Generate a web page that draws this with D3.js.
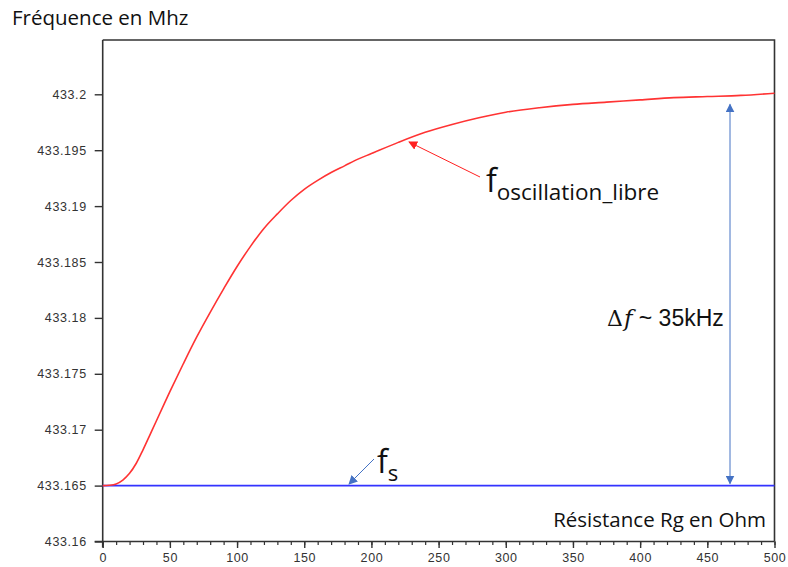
<!DOCTYPE html>
<html>
<head>
<meta charset="utf-8">
<script src="https://cdn.jsdelivr.net/npm/d3@7"></script>
<style>
  body { margin: 0; background: #fff; }
  svg { display: block; }
  .tick text { font-family: "Liberation Sans", Arial, sans-serif; font-size: 12.5px; letter-spacing: 0.6px; fill: #333; }
  .tick line, .domain { stroke: #333; }
  .lbl { font-family: "Open Sans", sans-serif; fill: #111; }
</style>
</head>
<body>
<svg id="chart" width="788" height="567"></svg>
<script>
// resistance Rg (ohm) and free oscillation frequency (MHz)
var resistance = [0, 5, 10, 15, 20, 25, 30, 35, 40, 50, 60, 70, 80, 90, 100, 110, 120, 130, 140, 150, 160,
  170, 180, 190, 200, 220, 240, 260, 280, 300, 325, 350, 375, 400, 425, 450, 475, 500];
var fLibre = [433.1650, 433.16503, 433.16515, 433.1655, 433.1661, 433.1670, 433.1682, 433.1695, 433.1708,
  433.1734, 433.1759, 433.1783, 433.1805, 433.1826, 433.1846, 433.1864, 433.1880, 433.1893, 433.1905,
  433.1915, 433.1923, 433.1930, 433.1936, 433.1942, 433.1947, 433.1957, 433.1966, 433.1973, 433.1979,
  433.1984, 433.1988, 433.1991, 433.1993, 433.1995, 433.1997, 433.1998, 433.1999, 433.2001];
var fS = 433.165;
var yTicks = [433.16, 433.165, 433.17, 433.175, 433.18, 433.185, 433.19, 433.195, 433.2];
var xTicks = [0, 50, 100, 150, 200, 250, 300, 350, 400, 450, 500];

var svg = d3.select('#chart');

var x = d3.scaleLinear().domain([0, 500]).range([102.7, 774.5]);
var y = d3.scaleLinear().domain([433.16, 433.2]).range([541.5, 94.3]);
var plotTop = 40;
var plotBottom = y(433.16);

// arrow heads
var defs = svg.append('defs');
function marker(id, color) {
  defs.append('marker')
    .attr('id', id)
    .attr('viewBox', '0 0 10 10')
    .attr('refX', 9).attr('refY', 5)
    .attr('markerWidth', 9).attr('markerHeight', 9)
    .attr('markerUnits', 'userSpaceOnUse')
    .attr('orient', 'auto-start-reverse')
    .append('path')
    .attr('d', 'M0,0 L10,5 L0,10 z')
    .attr('fill', color);
}
marker('arrRed', '#ff2020');
marker('arrBlue', '#4472c4');

// frame (top and right)
svg.append('path')
  .attr('d', 'M' + x(0) + ',' + plotTop + ' H' + x(500) + ' V' + plotBottom)
  .attr('fill', 'none')
  .attr('stroke', '#333')
  .attr('stroke-width', 1.6);

// axes
var yAxis = d3.axisLeft(y).tickValues(yTicks).tickSize(8).tickPadding(8)
  .tickFormat(d3.format('~r'));
var gy = svg.append('g').attr('transform', 'translate(' + x(0) + ',0)').call(yAxis);
gy.select('.domain').remove();
gy.selectAll('.tick line').attr('stroke-width', 1.4);
svg.append('line')
  .attr('x1', x(0)).attr('x2', x(0))
  .attr('y1', plotTop).attr('y2', plotBottom + 6)
  .attr('stroke', '#333').attr('stroke-width', 1.6);

var minor = d3.range(0, 501, 10);
var gxm = svg.append('g').attr('transform', 'translate(0,' + plotBottom + ')')
  .call(d3.axisBottom(x).tickValues(minor).tickSize(3.5).tickFormat(''));
gxm.select('.domain').remove();
gxm.selectAll('.tick line').attr('stroke-width', 1.2);

var gx = svg.append('g').attr('transform', 'translate(0,' + plotBottom + ')')
  .call(d3.axisBottom(x).tickValues(xTicks).tickSize(6.5).tickPadding(5));
gx.select('.domain').remove();
gx.selectAll('.tick line').attr('stroke-width', 1.4);
svg.append('line')
  .attr('x1', x(0) - 8).attr('x2', x(500))
  .attr('y1', plotBottom).attr('y2', plotBottom)
  .attr('stroke', '#333').attr('stroke-width', 1.6);

// f_s line
svg.append('line')
  .attr('x1', x(0)).attr('x2', x(500))
  .attr('y1', y(fS)).attr('y2', y(fS))
  .attr('stroke', '#3333ff').attr('stroke-width', 1.8);

// free oscillation curve
var line = d3.line()
  .x(function (d) { return x(d[0]); })
  .y(function (d) { return y(d[1]); })
  .curve(d3.curveCatmullRom.alpha(0.5));
svg.append('path')
  .datum(resistance.map(function (r, i) { return [r, fLibre[i]]; }))
  .attr('d', line)
  .attr('fill', 'none')
  .attr('stroke', '#ff3333')
  .attr('stroke-width', 1.6);

// axis titles
svg.append('text').attr('class', 'lbl')
  .attr('x', 12).attr('y', 25).attr('font-size', 20.5)
  .text('Fréquence en Mhz');
svg.append('text').attr('class', 'lbl')
  .attr('x', 766).attr('y', 527).attr('font-size', 20.5)
  .attr('text-anchor', 'end')
  .text('Résistance Rg en Ohm');

// f oscillation_libre annotation
svg.append('line')
  .attr('x1', 480).attr('y1', 177).attr('x2', 409).attr('y2', 142)
  .attr('stroke', '#ff2020').attr('stroke-width', 1)
  .attr('marker-end', 'url(#arrRed)');
var t1 = svg.append('text').attr('class', 'lbl').attr('x', 486).attr('y', 192);
t1.append('tspan').attr('font-size', 32).text('f');
t1.append('tspan').attr('font-size', 22.5).attr('dy', 8).text('oscillation_libre');

// f_s annotation
svg.append('line')
  .attr('x1', 374).attr('y1', 459).attr('x2', 349).attr('y2', 484)
  .attr('stroke', '#4472c4').attr('stroke-width', 1)
  .attr('marker-end', 'url(#arrBlue)');
var t2 = svg.append('text').attr('class', 'lbl').attr('x', 377).attr('y', 473);
t2.append('tspan').attr('font-size', 32).text('f');
t2.append('tspan').attr('font-size', 22).attr('dy', 8).text('s');

// delta f double arrow
svg.append('line')
  .attr('x1', 730).attr('x2', 730)
  .attr('y1', y(433.2) + 10).attr('y2', y(fS) - 2)
  .attr('stroke', '#4472c4').attr('stroke-width', 1)
  .attr('marker-start', 'url(#arrBlue)')
  .attr('marker-end', 'url(#arrBlue)');
var t3 = svg.append('text').attr('x', 607).attr('y', 326)
  .attr('font-family', '"Liberation Sans", Arial, sans-serif').attr('fill', '#111');
t3.append('tspan').attr('font-size', 22).attr('font-family', '"DejaVu Serif", serif').text('Δ');
t3.append('tspan').attr('font-size', 23).attr('font-family', '"DejaVu Serif", serif')
  .attr('font-style', 'italic').attr('dx', 1).text('f');
t3.append('tspan').attr('font-size', 23).text(' ~ 35kHz');
</script>
</body>
</html>
